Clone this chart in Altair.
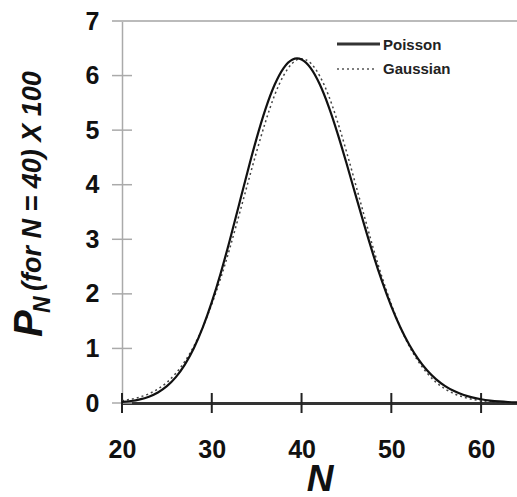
import altair as alt
import pandas as pd

# N values
n_values = list(range(20, 65))
# Poisson probability for mean 40, x 100
poisson_vals = [0.019, 0.037, 0.067, 0.116, 0.193, 0.308, 0.474, 0.703, 1.004, 1.385,
                1.847, 2.383, 2.979, 3.611, 4.248, 4.854, 5.394, 5.831, 6.138, 6.295,
                6.295, 6.141, 5.849, 5.441, 4.946, 4.397, 3.823, 3.254, 2.711, 2.213,
                1.771, 1.389, 1.068, 0.806, 0.597, 0.434, 0.310, 0.218, 0.150, 0.102,
                0.068, 0.045, 0.029, 0.018, 0.011]
# Gaussian approximation x 100
gauss_vals = [0.043, 0.069, 0.110, 0.170, 0.257, 0.379, 0.544, 0.763, 1.04, 1.39,
              1.81, 2.29, 2.83, 3.42, 4.02, 4.61, 5.16, 5.64, 6.00, 6.23,
              6.31, 6.23, 6.00, 5.64, 5.16, 4.61, 4.02, 3.42, 2.83, 2.29,
              1.81, 1.39, 1.04, 0.763, 0.544, 0.379, 0.257, 0.170, 0.110, 0.069,
              0.043, 0.026, 0.015, 0.008, 0.005]

x_ticks = [20, 30, 40, 50, 60]
y_ticks = [0, 1, 2, 3, 4, 5, 6]
y_top = [7]
legend_labels = ["Poisson", "Gaussian"]

W, H = 395, 382
FONT = "Liberation Sans"

df_p = pd.DataFrame({"N": n_values, "P": poisson_vals})
df_g = pd.DataFrame({"N": n_values, "P": gauss_vals})
df_xt = pd.DataFrame({"N": x_ticks})
df_yt = pd.DataFrame({"P": y_ticks})
df_top = pd.DataFrame({"P": y_top})

xscale = alt.Scale(domain=[20, 64], nice=False, zero=False)
yscale = alt.Scale(domain=[0, 7], nice=False)

xaxis = alt.Axis(values=x_ticks, ticks=False, grid=False, domainColor="#333333",
                 domainWidth=3, labelFont=FONT, labelFontSize=25, labelFontWeight="bold",
                 labelColor="#111111", labelPadding=34, labelFlush=False, format="d",
                 title="N", titleFont=FONT,
                 titleFontSize=37, titleFontWeight="bold", titleFontStyle="italic",
                 titleColor="#111111", titlePadding=-1)
yaxis = alt.Axis(values=[0, 1, 2, 3, 4, 5, 6, 7], ticks=False, grid=False, format="d",
                 domainColor="#aaaaaa", domainWidth=1.5, labelFont=FONT, labelFontSize=25,
                 labelFontWeight="bold", labelColor="#111111", labelPadding=23,
                 labelFlush=False, title=None)

poisson = alt.Chart(df_p).mark_line(color="#111111", strokeWidth=2.2, interpolate="natural").encode(
    x=alt.X("N:Q", scale=xscale, axis=xaxis),
    y=alt.Y("P:Q", scale=yscale, axis=yaxis),
)
gauss = alt.Chart(df_g).mark_line(color="#444444", strokeWidth=1.5, strokeDash=[2, 3],
                                  interpolate="natural").encode(
    x="N:Q", y="P:Q"
)

yt = alt.Chart(df_yt).mark_rule(color="#aaaaaa", strokeWidth=1.5).encode(
    y="P:Q", x=alt.value(-10), x2=alt.value(10)
)
top = alt.Chart(df_top).mark_rule(color="#bbbbbb", strokeWidth=2).encode(
    y="P:Q", x=alt.value(-10), x2=alt.value(W)
)
xt = alt.Chart(df_xt).mark_rule(color="#222222", strokeWidth=2).encode(
    x="N:Q", y=alt.value(H - 10), y2=alt.value(H + 10)
)

leg_solid = alt.Chart(pd.DataFrame({"l": [legend_labels[0]]})).mark_rule(
    color="#333333", strokeWidth=3).encode(
    x=alt.value(215), x2=alt.value(258), y=alt.value(23)
)
leg_dot = alt.Chart(pd.DataFrame({"l": [legend_labels[1]]})).mark_rule(
    color="#555555", strokeWidth=1.5, strokeDash=[2, 3]).encode(
    x=alt.value(215), x2=alt.value(255), y=alt.value(48)
)
leg_t1 = alt.Chart(pd.DataFrame({"l": [legend_labels[0]]})).mark_text(
    font=FONT, fontSize=15, fontWeight="bold", align="left", baseline="middle", color="#222222"
).encode(text="l:N", x=alt.value(261), y=alt.value(24))
leg_t2 = alt.Chart(pd.DataFrame({"l": [legend_labels[1]]})).mark_text(
    font=FONT, fontSize=15, fontWeight="bold", align="left", baseline="middle", color="#222222"
).encode(text="l:N", x=alt.value(261), y=alt.value(48))

# y title: P_N (for N = 40) X 100
tP = alt.Chart(pd.DataFrame({"t": ["P"]})).mark_text(
    font=FONT, fontSize=40, fontWeight="bold", fontStyle="italic", angle=270,
    align="left", baseline="alphabetic", color="#111111"
).encode(text="t:N", x=alt.value(-80), y=alt.value(316))
tN = alt.Chart(pd.DataFrame({"t": ["N"]})).mark_text(
    font=FONT, fontSize=23, fontWeight="bold", fontStyle="italic", angle=270,
    align="left", baseline="alphabetic", color="#111111"
).encode(text="t:N", x=alt.value(-72), y=alt.value(292))
tRest = alt.Chart(pd.DataFrame({"t": ["(for N = 40) X 100"]})).mark_text(
    font=FONT, fontSize=27, fontWeight="bold", fontStyle="italic", angle=270,
    align="left", baseline="alphabetic", color="#111111"
).encode(text="t:N", x=alt.value(-81), y=alt.value(270))

chart = alt.layer(
    top, yt, xt, gauss, poisson, leg_solid, leg_dot, leg_t1, leg_t2, tP, tN, tRest
).properties(
    width=W, height=H,
    padding={"left": 122, "top": 21, "right": 0, "bottom": 94},
    autosize=alt.AutoSizeParams(type="none"),
    background="white",
).configure_view(stroke=None)

chart.save("out.html", embed_options={"renderer": "svg", "actions": False})
